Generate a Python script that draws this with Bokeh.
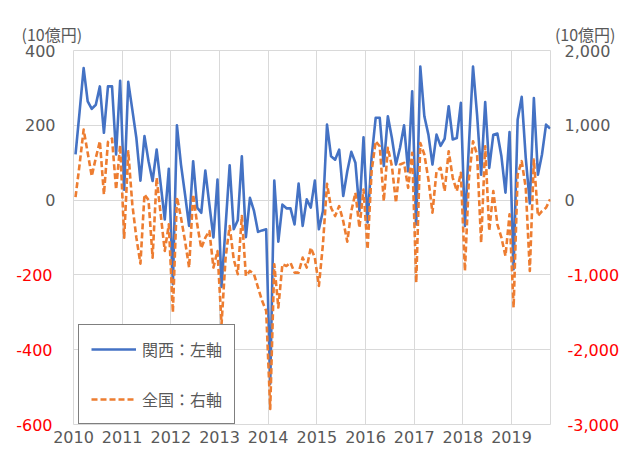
from bokeh.plotting import figure
from bokeh.models import Range1d, LinearAxis, FixedTicker, Label, Legend, LegendItem
from bokeh.embed import file_html
from bokeh.resources import INLINE

# ---- data ----
years = [2010, 2011, 2012, 2013, 2014, 2015, 2016, 2017, 2018, 2019]
year_labels = ["2010", "2011", "2012", "2013", "2014", "2015", "2016", "2017", "2018", "2019"]

# 関西 (left axis, 10億円), monthly from 2010-01
kansai = [
    122, 236, 353, 264, 244, 255, 304, 180, 304, 304, 122, 319,
    28, 316, 242, 166, 52, 171, 104, 51, 135, 42, -52, 84,
    -225, 200, 95, 15, -69, 104, -20, -34, 79, -12, -100, 55,
    -232, -69, 93, -78, -54, 117, -99, 6, -29, -85, -81, -78,
    -491, 52, -111, -12, -22, -22, -65, 44, -69, 2, -20, 52,
    -78, -29, 202, 117, 108, 135, 11, 77, 129, 100, -29, 168,
    -60, 115, 220, 220, 91, 224, 166, 95, 140, 200, 77, 291,
    -65, 357, 224, 175, 95, 175, 145, 164, 251, 162, 166, 260,
    -69, 150, 357, 228, 68, 262, 86, 175, 178, 117, 20, 182,
    -185, 215, 276, 113, -9, 273, 68, 122, 202, 191,
]

# 全国 (right axis, 10億円), monthly from 2010-01
zenkoku = [
    40, 475, 942, 631, 320, 564, 787, 76, 778, 822, 142, 733,
    -502, 653, -58, -502, -849, 76, 0, -769, 298, -191, -680, -324,
    -1502, 40, -236, -547, -902, 76, -324, -644, -502, -413, -902, -680,
    -1658, -769, -347, -791, -991, -213, -1013, -947, -991, -1169, -1347, -1480,
    -2791, -858, -1436, -858, -880, -836, -969, -969, -769, -902, -636, -769,
    -1147, -591, 218, -102, -213, -80, -280, -556, -147, 98, -369, 142,
    -658, 387, 787, 720, -13, 698, 453, -36, 476, 498, 164, 631,
    -1102, 764, 609, 276, -169, 387, 431, 120, 653, 298, 120, 364,
    -947, 298, 787, 609, -569, 720, -413, 120, -324, -502, -747, -191,
    -1436, 342, 520, 164, -947, 542, -213, -147, -102, 9,
]

left_ticks = [-600, -400, -200, 0, 200, 400]
left_labels = ["-600", "-400", "-200", "0", "200", "400"]
right_ticks = [-3000, -2000, -1000, 0, 1000, 2000]
right_labels = ["-3,000", "-2,000", "-1,000", "0", "1,000", "2,000"]
unit_text = "(10億円)"
series_names = ["関西：左軸", "全国：右軸"]

# month midpoints along a year axis
x = [years[0] + (i + 0.5) / 12 for i in range(len(kansai))]

GRAY = "#595959"
RED = "#FF0000"
NUM_FONT = "DejaVu Sans"
CJK_FONT = "Noto Sans CJK JP"
FS = "16px"

p = figure(width=622, height=449, output_backend="svg", toolbar_location=None,
           x_range=Range1d(2010, 2019.8), y_range=Range1d(-600, 400),
           y_axis_location=None,
           min_border_left=73, min_border_right=66, min_border_top=50, min_border_bottom=25,
           background_fill_color="white", border_fill_color="white")
p.extra_y_ranges = {"right": Range1d(-3000, 2000)}
p.outline_line_color = "#D9D9D9"
p.outline_line_width = 1

# grids
p.xgrid.ticker = FixedTicker(ticks=years)
p.ygrid.ticker = FixedTicker(ticks=left_ticks)
for g in (p.xgrid, p.ygrid):
    g.grid_line_color = "#D9D9D9"
    g.grid_line_width = 1


def style(ax, color, standoff):
    ax.axis_line_color = None
    ax.major_tick_line_color = None
    ax.minor_tick_line_color = None
    ax.major_tick_out = 0
    ax.major_tick_in = 0
    ax.major_label_text_color = color
    ax.major_label_text_font = NUM_FONT
    ax.major_label_text_font_size = FS
    ax.major_label_standoff = standoff


# x axis
xa = p.xaxis[0]
xa.ticker = FixedTicker(ticks=years)
xa.major_label_overrides = {y: t for y, t in zip(years, year_labels)}
style(xa, GRAY, 6)

# left axis: gray non-negative labels next to the frame,
# red negative labels on a second axis pulled back onto the same column
lab_l = dict(zip(left_ticks, left_labels))
pos_l = [v for v in left_ticks if v >= 0]
neg_l = [v for v in left_ticks if v < 0]
ya = LinearAxis(ticker=FixedTicker(ticks=pos_l))
ya.major_label_overrides = {v: lab_l[v] for v in pos_l}
style(ya, GRAY, 18)
p.add_layout(ya, "left")
ya2 = LinearAxis(ticker=FixedTicker(ticks=neg_l))
ya2.major_label_overrides = {v: lab_l[v] for v in neg_l}
style(ya2, RED, -31)
p.add_layout(ya2, "left")

# right axis
lab_r = dict(zip(right_ticks, right_labels))
pos_r = [v for v in right_ticks if v >= 0]
neg_r = [v for v in right_ticks if v < 0]
ra = LinearAxis(y_range_name="right", ticker=FixedTicker(ticks=pos_r))
ra.major_label_overrides = {v: lab_r[v] for v in pos_r}
style(ra, GRAY, 14)
p.add_layout(ra, "right")
ra2 = LinearAxis(y_range_name="right", ticker=FixedTicker(ticks=neg_r))
ra2.major_label_overrides = {v: lab_r[v] for v in neg_r}
style(ra2, RED, -46)
p.add_layout(ra2, "right")

# unit labels above the axes
p.add_layout(Label(x=p.x_range.start, x_offset=-52, y=p.y_range.end, y_offset=17,
                   text=unit_text, text_align="left", text_baseline="middle",
                   text_color=GRAY, text_font=CJK_FONT, text_font_size=FS), "above")
p.add_layout(Label(x=p.x_range.end, x_offset=65, y=p.y_range.end, y_offset=17,
                   text=unit_text, text_align="right", text_baseline="middle",
                   text_color=GRAY, text_font=CJK_FONT, text_font_size=FS), "above")

# series
r1 = p.line(x, kansai, line_color="#4472C4", line_width=2.6, line_join="round")
r2 = p.line(x, zenkoku, y_range_name="right", line_color="#ED7D31", line_width=2.6,
            line_dash="6 3", line_join="round")

legend = Legend(items=[LegendItem(label=series_names[0], renderers=[r1]),
                       LegendItem(label=series_names[1], renderers=[r2])],
                location=(5, 0), orientation="vertical")
legend.border_line_color = "black"
legend.border_line_width = 1.3
legend.background_fill_color = "white"
legend.background_fill_alpha = 1
legend.padding = 12
legend.margin = 0
legend.spacing = 26
legend.glyph_width = 45
legend.glyph_height = 20
legend.label_height = 20
legend.label_standoff = 6
legend.label_text_font = CJK_FONT
legend.label_text_font_size = FS
legend.label_text_color = GRAY
p.add_layout(legend)

open("out.html", "w").write(file_html(p, INLINE))
